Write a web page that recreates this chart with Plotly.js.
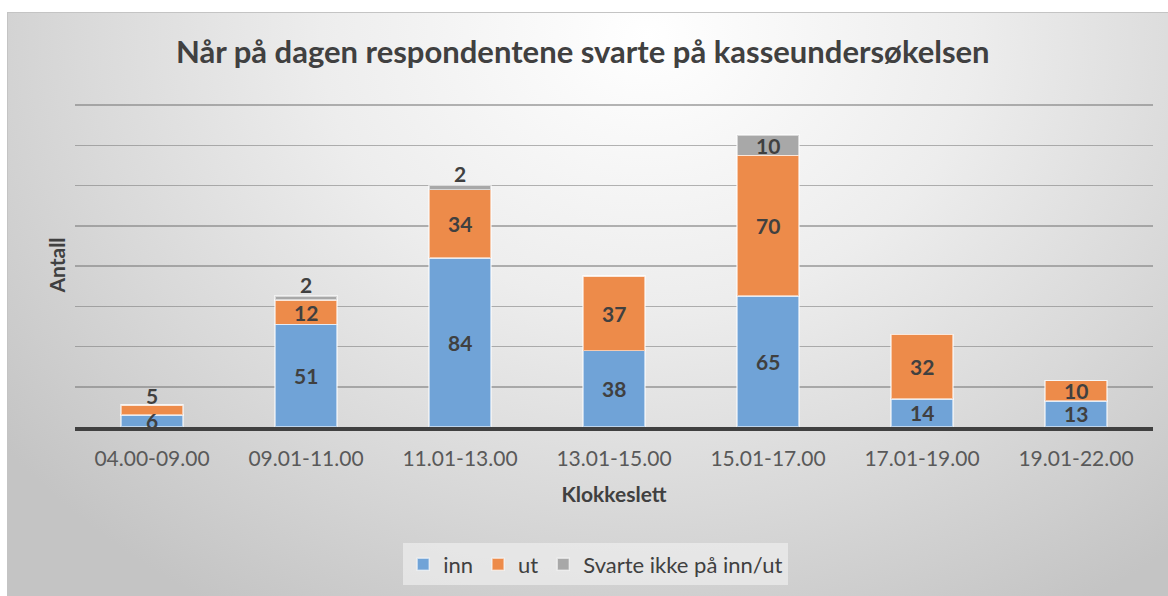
<!DOCTYPE html>
<html>
<head>
<meta charset="utf-8">
<script src="https://cdn.plot.ly/plotly-3.0.1.min.js"></script>
<style>
  html, body { margin: 0; padding: 0; background: #ffffff; width: 1168px; height: 596px; overflow: hidden; }
  #bg { position: absolute; left: 7px; top: 12px; width: 1161px; height: 584px;
        border-top: 1px solid #c4c4c4; border-left: 1px solid #c4c4c4;
        background: radial-gradient(ellipse 70% 115% at 55% 4%, #ffffff 0%, #ededed 40%, #d9d9d9 70%, #c4c4c4 100%); }
  #chart { position: absolute; left: 0; top: 0; width: 1168px; height: 596px; }
</style>
</head>
<body>
<div id="bg"></div>
<div id="chart"></div>
<script>
const categories = ["04.00-09.00", "09.01-11.00", "11.01-13.00", "13.01-15.00", "15.01-17.00", "17.01-19.00", "19.01-22.00"];
const innValues = [6, 51, 84, 38, 65, 14, 13];
const utValues = [5, 12, 34, 37, 70, 32, 10];
const svarteIkkeValues = [0, 2, 2, 0, 10, 0, 0];
const seriesNames = ["inn", "ut", "Svarte ikke på inn/ut"];
const chartTitle = "Når på dagen respondentene svarte på kasseundersøkelsen";
const xTitle = "Klokkeslett";
const yTitle = "Antall";

const colors = ["rgb(112,163,215)", "rgb(237,139,74)", "rgb(168,168,168)"];
const allSeries = [innValues, utValues, svarteIkkeValues];
const FONT = "Lato, 'Open Sans', sans-serif";

const traces = allSeries.map((vals, i) => ({
  type: "bar",
  name: seriesNames[i],
  x: categories,
  y: vals,
  marker: { color: colors[i], line: { color: "rgba(255,255,255,0.55)", width: 1.5 } },
  hoverinfo: "skip"
}));

const annotations = [];
categories.forEach((cat, j) => {
  let base = 0;
  allSeries.forEach((vals, i) => {
    const v = vals[j];
    if (v > 0) {
      const isTop = allSeries.slice(i + 1).every(s => s[j] === 0);
      annotations.push({
        x: cat, y: base + v / 2, xref: "x", yref: "y",
        text: String(v), showarrow: false,
        yshift: (isTop && v <= 5 && base > 0) ? 14 : 0,
        font: { family: FONT, size: 21, color: "#404040", weight: "bold" }
      });
    }
    base += v;
  });
});

const layout = {
  width: 1168, height: 596,
  paper_bgcolor: "rgba(0,0,0,0)",
  plot_bgcolor: "rgba(0,0,0,0)",
  barmode: "stack",
  bargap: 0.6,
  margin: { l: 75, r: 15, t: 103, b: 168 },
  title: {
    text: "<b>" + chartTitle + "</b>",
    x: 0.499, xanchor: "center", y: 0.912, yanchor: "middle",
    font: { family: FONT, size: 31, color: "#404040" }
  },
  xaxis: {
    type: "category",
    showline: true, linecolor: "#404040", linewidth: 4,
    showgrid: false, ticks: "", ticklabelstandoff: 10,
    tickfont: { family: FONT, size: 21, color: "#595959" },
    title: { text: "<b>" + xTitle + "</b>", standoff: 19, font: { family: FONT, size: 21, color: "#404040" } }
  },
  yaxis: {
    range: [0, 161], dtick: 20,
    showticklabels: false, ticks: "",
    showgrid: true, gridcolor: "rgba(120,120,120,0.55)", gridwidth: 1.5,
    zeroline: false, showline: false,
    title: { text: "<b>" + yTitle + "</b>", standoff: 2, font: { family: FONT, size: 21, color: "#404040" } }
  },
  legend: {
    orientation: "h", x: 0.483, xanchor: "center", y: -0.355, yanchor: "top",
    bgcolor: "rgba(238,238,238,0.7)",
    font: { family: FONT, size: 22, color: "#404040" },
    itemwidth: 30, traceorder: "normal"
  },
  annotations: annotations,
  showlegend: true
};

Plotly.newPlot("chart", traces, layout, { displayModeBar: false, staticPlot: true });
</script>
</body>
</html>
